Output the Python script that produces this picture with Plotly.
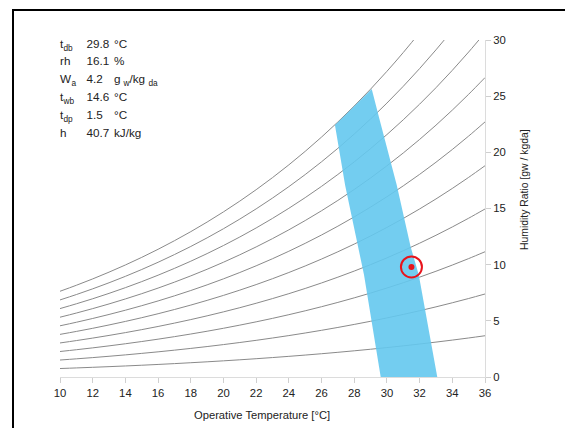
import plotly.graph_objects as go

# Data
temps = list(range(10, 37))
# saturation vapour pressure [kPa] at temps
p_sat = [1.2282, 1.3130, 1.4028, 1.4981, 1.5990, 1.7058, 1.8188, 1.9384, 2.0647,
         2.1983, 2.3393, 2.4882, 2.6453, 2.8111, 2.9858, 3.1699, 3.3639, 3.5681,
         3.7831, 4.0092, 4.2470, 4.4969, 4.7596, 5.0354, 5.3251, 5.6290, 5.9479]
rh_levels = [0.1, 0.2, 0.3, 0.4, 0.5, 0.6, 0.7, 0.8, 0.9, 1.0]
P_ATM = 101.325

zone_t = [29.62, 28.60, 27.44, 26.82, 27.5, 28.0, 28.5, 29.07, 29.53, 30.08, 30.60, 31.45, 31.95, 33.08]
zone_w = [0.0, 9.08, 17.09, 22.43, 23.40, 24.12, 24.87, 25.64, 23.03, 20.06, 17.09, 11.60, 9.08, 0.0]

point_t = [31.5]
point_w = [9.8]

info_labels = ["t", "rh", "W", "t", "t", "h"]
info_label_subs = ["db", "", "a", "wb", "dp", ""]
info_values = ["29.8", "16.1", "4.2", "14.6", "1.5", "40.7"]
info_units = ["°C", "%", "g", "°C", "°C", "kJ/kg"]

x_title = "Operative Temperature [°C]"
y_title = "Humidity Ratio [gw / kgda]"

fig = go.Figure()

for rh in rh_levels:
    w = [1000 * 0.622 * rh * p / (P_ATM - rh * p) for p in p_sat]
    fig.add_trace(go.Scatter(x=temps, y=w, mode="lines", line=dict(color="#8a8a8a", width=1, shape="spline"),
                             hoverinfo="skip", showlegend=False))

fig.add_trace(go.Scatter(x=zone_t, y=zone_w, mode="lines", fill="toself", fillcolor="rgba(100,200,238,0.9)",
                         line=dict(width=0, color="rgba(100,200,238,0.9)"), showlegend=False, hoverinfo="skip"))

fig.add_trace(go.Scatter(x=point_t, y=point_w, mode="markers",
                         marker=dict(symbol="circle-open", size=21, color="#e8141c", line=dict(width=2, color="#e8141c")),
                         showlegend=False))
fig.add_trace(go.Scatter(x=point_t, y=point_w, mode="markers",
                         marker=dict(symbol="circle", size=6, color="#e8141c"), showlegend=False))

font = "Liberation Sans, Arial, sans-serif"


# text placement: pixel -> data conversion of the plot area (60..485 px, 40..377 px)
def px_x(px):
    return 10 + (px - 60) / (425 / 26)


def px_y(py):
    return (377 - py) / (337 / 30)


row_px_y = [45, 62.5, 80.5, 98.5, 116.5, 134.5]

main_x, main_y, main_t = [], [], []
sub_x, sub_y, sub_t = [], [], []
for i, ry in enumerate(row_px_y):
    main_x += [px_x(60), px_x(86.5), px_x(114)]
    main_y += [px_y(ry)] * 3
    main_t += [info_labels[i], info_values[i], info_units[i]]
    if info_label_subs[i]:
        sub_x.append(px_x(71.5 if info_labels[i] == "W" else 63.5))
        sub_y.append(px_y(ry + 3.5))
        sub_t.append(info_label_subs[i])
    if info_units[i] == "g":
        main_x.append(px_x(129.5))
        main_y.append(px_y(ry))
        main_t.append("/kg")
        sub_x += [px_x(123.5), px_x(148.5)]
        sub_y += [px_y(ry + 3.5)] * 2
        sub_t += ["w", "da"]

fig.add_trace(go.Scatter(x=main_x, y=main_y, mode="text", text=main_t, textposition="middle right",
                         textfont=dict(family=font, size=11.7, color="#222"),
                         hoverinfo="skip", showlegend=False, cliponaxis=False))
fig.add_trace(go.Scatter(x=sub_x, y=sub_y, mode="text", text=sub_t, textposition="middle right",
                         textfont=dict(family=font, size=8.3, color="#222"),
                         hoverinfo="skip", showlegend=False, cliponaxis=False))

fig.add_shape(type="rect", xref="paper", yref="paper",
              x0=(13 - 60) / 425.0, x1=(571 - 60) / 425.0, y0=(377 - 470) / 337.0, y1=(377 - 10) / 337.0,
              line=dict(color="black", width=2))

fig.add_annotation(text=x_title, xref="paper", yref="paper", x=(261.7 - 60) / 425.0, y=(377 - 415) / 337.0,
                   xanchor="center", yanchor="middle", showarrow=False,
                   font=dict(family=font, size=11.2, color="#222"))
fig.add_annotation(text=y_title, xref="paper", yref="paper", x=(524 - 60) / 425.0, y=(377 - 190) / 337.0,
                   xanchor="center", yanchor="middle", showarrow=False, textangle=-90,
                   font=dict(family=font, size=10.4, color="#222"))

fig.update_layout(
    width=573, height=428,
    margin=dict(l=52, r=96, t=32, b=59),
    plot_bgcolor="white", paper_bgcolor="white",
    font=dict(family=font, size=11, color="#222"),
    xaxis=dict(range=[10, 36], tickvals=list(range(10, 37, 2)), showgrid=False, zeroline=False,
               showline=True, linecolor="#dcdcdc", linewidth=1, ticks="outside", tickcolor="#cfcfcf",
               ticklen=5, tickfont=dict(size=11.3)),
    yaxis=dict(range=[0, 30], tickvals=list(range(0, 31, 5)), side="right", showgrid=False, zeroline=False,
               showline=True, linecolor="#dcdcdc", linewidth=1, ticks="outside", tickcolor="#cfcfcf",
               ticklen=5, tickfont=dict(size=11.3)),
)

fig.write_html("out.html")
